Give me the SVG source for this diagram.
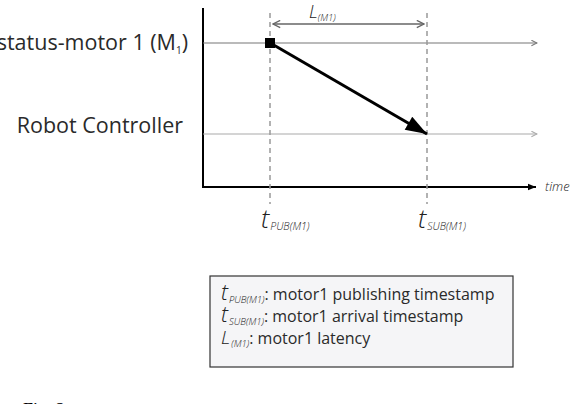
<svg xmlns="http://www.w3.org/2000/svg" width="574" height="404" viewBox="0 0 574 404">
<defs>
<marker id="open" viewBox="0 0 10 10" refX="9" refY="5" markerWidth="7" markerHeight="7" markerUnits="userSpaceOnUse" orient="auto-start-reverse">
<path d="M1,1 L9,5 L1,9" fill="none" stroke="context-stroke" stroke-width="1.5"/>
</marker>
<marker id="lm" viewBox="0 0 10 10" refX="9" refY="5" markerWidth="9" markerHeight="9" markerUnits="userSpaceOnUse" orient="auto-start-reverse">
<path d="M1,1 L9,5 L1,9" fill="none" stroke="#666" stroke-width="1.5"/>
</marker>
<marker id="solid" viewBox="0 0 10 10" refX="10" refY="5" markerWidth="8" markerHeight="8" markerUnits="userSpaceOnUse" orient="auto">
<path d="M0,1 L10,5 L0,9 z" fill="#000"/>
</marker>
<marker id="big" viewBox="0 0 20 14" refX="20" refY="7" markerWidth="22" markerHeight="15" markerUnits="userSpaceOnUse" orient="auto">
<path d="M0,0 L20,7 L0,14 z" fill="#000"/>
</marker>
</defs>
<style>
.lbl{font-family:"Open Sans","DejaVu Sans",sans-serif;fill:#2a2a2a}
.it{font-family:"Open Sans","DejaVu Sans",sans-serif;font-style:italic;font-weight:300;fill:#222}
.dash{stroke:#999;stroke-width:1.5;stroke-dasharray:5,4;fill:none}
</style>
<g id="axes">
<line x1="203" y1="8" x2="203" y2="187" stroke="#000" stroke-width="2"/>
<line x1="202" y1="187" x2="536" y2="187" stroke="#000" stroke-width="2" marker-end="url(#solid)"/>
<text class="it" x="545" y="191" font-size="13">time</text>
</g>
<g id="lane-motor">
<line x1="203" y1="43" x2="537" y2="43" stroke="#777" stroke-width="1.2" marker-end="url(#open)"/>
<text class="lbl" x="188" y="50" font-size="21.5" text-anchor="end">status-motor 1 (M<tspan font-size="10" dy="4">1</tspan><tspan dy="-4">)</tspan></text>
</g>
<g id="lane-controller">
<line x1="203" y1="134" x2="537" y2="134" stroke="#aaa" stroke-width="1.2" marker-end="url(#open)"/>
<text class="lbl" x="183" y="133" font-size="21.5" text-anchor="end">Robot Controller</text>
</g>
<g id="connectors">
<line class="dash" x1="270" y1="13" x2="270" y2="204"/>
<line class="dash" x1="427" y1="13" x2="427" y2="204"/>
<line x1="273" y1="24" x2="424" y2="24" stroke="#666" stroke-width="1.3" marker-start="url(#lm)" marker-end="url(#lm)"/>
<line x1="272" y1="44" x2="427" y2="134" stroke="#000" stroke-width="3" marker-end="url(#big)"/>
</g>
<g id="publish-point">
<rect x="265" y="38" width="10" height="10" fill="#000"/>
</g>
<g id="latency-label">
<text class="it" x="309" y="18" font-size="18">L<tspan font-size="9.5" dy="3">(M1)</tspan></text>
</g>
<g id="t-pub">
<text class="it" x="261" y="228" font-size="26">t<tspan font-size="10.5" dy="2" dx="1">PUB(M1)</tspan></text>
</g>
<g id="t-sub">
<text class="it" x="418" y="228" font-size="26">t<tspan font-size="10.5" dy="2" dx="1">SUB(M1)</tspan></text>
</g>
<g id="legend">
<rect x="210" y="276" width="303" height="91" fill="#f5f5f7" stroke="#333" stroke-width="1.2"/>
<text x="221" y="300" font-size="16"><tspan class="it" font-size="22">t</tspan><tspan class="it" font-size="9.5" dy="3" dx="1">PUB(M1)</tspan><tspan class="lbl" dy="-3">: motor1 publishing timestamp</tspan></text>
<text x="221" y="322" font-size="16"><tspan class="it" font-size="22">t</tspan><tspan class="it" font-size="9.5" dy="3" dx="1">SUB(M1)</tspan><tspan class="lbl" dy="-3">: motor1 arrival timestamp</tspan></text>
<text x="221" y="344" font-size="16"><tspan class="it" font-size="19">L</tspan><tspan class="it" font-size="9.5" dy="3" dx="1">(M1)</tspan><tspan class="lbl" dy="-3">: motor1 latency</tspan></text>
</g>
<text x="23" y="416" font-family="Liberation Serif,serif" font-size="18" fill="#000">Fig. 2</text>
</svg>
